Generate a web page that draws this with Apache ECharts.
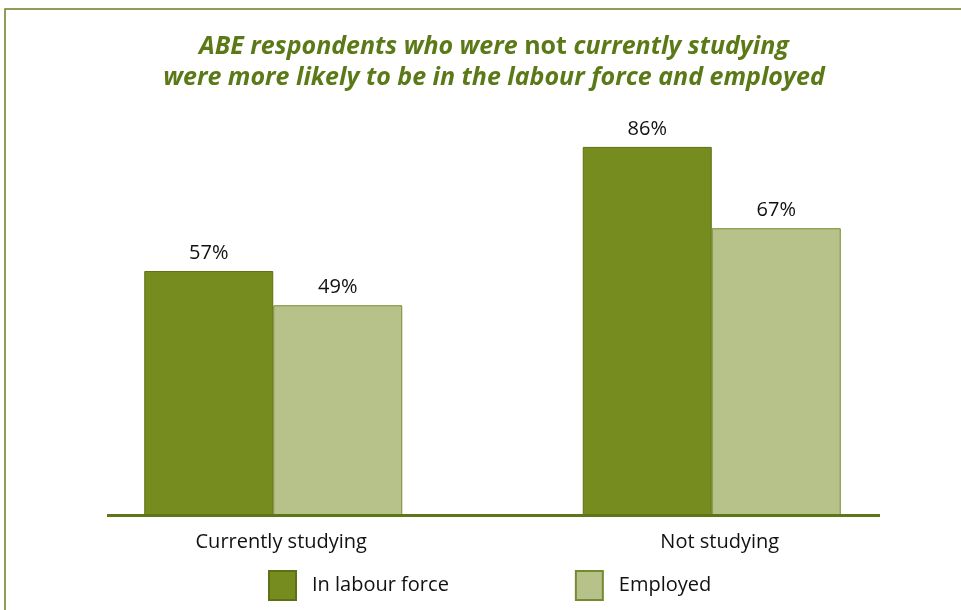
<!DOCTYPE html>
<html>
<head>
<meta charset="utf-8">
<script src="https://cdn.jsdelivr.net/npm/echarts@6/dist/echarts.min.js"></script>
<style>
  html, body { margin: 0; padding: 0; background: #ffffff; }
  #chart { width: 961px; height: 610px; }
</style>
</head>
<body>
<div id="chart"></div>
<script>
// Labour force status of ABE respondents by study status
const categories = ['Currently studying', 'Not studying'];
const seriesNames = ['In labour force', 'Employed'];
const inLabourForce = [57, 86];
const employed = [49, 67];

const FONT = '"Open Sans", "Noto Sans", sans-serif';
const DARK = '#768c1e';
const DARK_EDGE = '#5c7014';
const LIGHT = '#b6c289';
const LIGHT_EDGE = '#768a30';
const TITLE_GREEN = '#5b7a17';
const TEXT = '#111111';

const chart = echarts.init(document.getElementById('chart'), null, { renderer: 'canvas' });

const labelStyle = {
  show: true,
  position: 'top',
  distance: 8,
  formatter: '{c}%',
  color: TEXT,
  fontFamily: FONT,
  fontSize: 20
};

chart.setOption({
  backgroundColor: '#ffffff',
  animation: false,
  graphic: [
    // outer frame
    {
      type: 'rect',
      shape: { x: 5, y: 9, width: 1000, height: 700 },
      style: { fill: 'none', stroke: '#6a7f1f', lineWidth: 1.5 },
      silent: true
    },
    // baseline under the bars
    {
      type: 'rect',
      shape: { x: 107, y: 514, width: 773, height: 3 },
      style: { fill: '#5f7517' },
      z: 10,
      silent: true
    },
    // two-line title
    {
      type: 'text',
      x: 494,
      y: 47,
      style: {
        text: '{i|ABE respondents who were }{b|not}{i| currently studying}',
        align: 'center',
        verticalAlign: 'middle',
        rich: {
          i: { fontFamily: FONT, fontStyle: 'italic', fontWeight: 'bold', fontSize: 25, fill: TITLE_GREEN, color: TITLE_GREEN },
          b: { fontFamily: FONT, fontStyle: 'normal', fontWeight: 'bold', fontSize: 25, fill: TITLE_GREEN, color: TITLE_GREEN }
        }
      }
    },
    {
      type: 'text',
      x: 494,
      y: 78,
      style: {
        text: 'were more likely to be in the labour force and employed',
        align: 'center',
        verticalAlign: 'middle',
        fontFamily: FONT,
        fontStyle: 'italic',
        fontWeight: 'bold',
        fontSize: 25,
        fill: TITLE_GREEN
      }
    }
  ],
  legend: {
    data: seriesNames,
    left: 263,
    top: 565,
    itemWidth: 27,
    itemHeight: 29,
    itemGap: 126,
    selectedMode: false,
    icon: 'rect',
    textStyle: { fontFamily: FONT, fontSize: 20, color: TEXT, padding: [0, 0, 0, 11] }
  },
  grid: {
    left: 54,
    right: 30,
    top: 87,
    bottom: 95,
    containLabel: false
  },
  xAxis: {
    type: 'category',
    data: categories,
    axisLine: { show: false },
    axisTick: { show: false },
    axisLabel: {
      margin: 17,
      color: TEXT,
      fontFamily: FONT,
      fontSize: 20,
      padding: [0, 0, 0, 16]
    }
  },
  yAxis: {
    type: 'value',
    min: 0,
    max: 100,
    show: false,
    splitLine: { show: false }
  },
  series: [
    {
      name: seriesNames[0],
      type: 'bar',
      data: inLabourForce,
      barWidth: 129,
      barGap: '0%',
      itemStyle: { color: DARK, borderColor: DARK_EDGE, borderWidth: 1 },
      label: labelStyle
    },
    {
      name: seriesNames[1],
      type: 'bar',
      data: employed,
      barWidth: 129,
      barGap: '0%',
      itemStyle: { color: LIGHT, borderColor: LIGHT_EDGE, borderWidth: 1 },
      label: labelStyle
    }
  ]
});
</script>
</body>
</html>
